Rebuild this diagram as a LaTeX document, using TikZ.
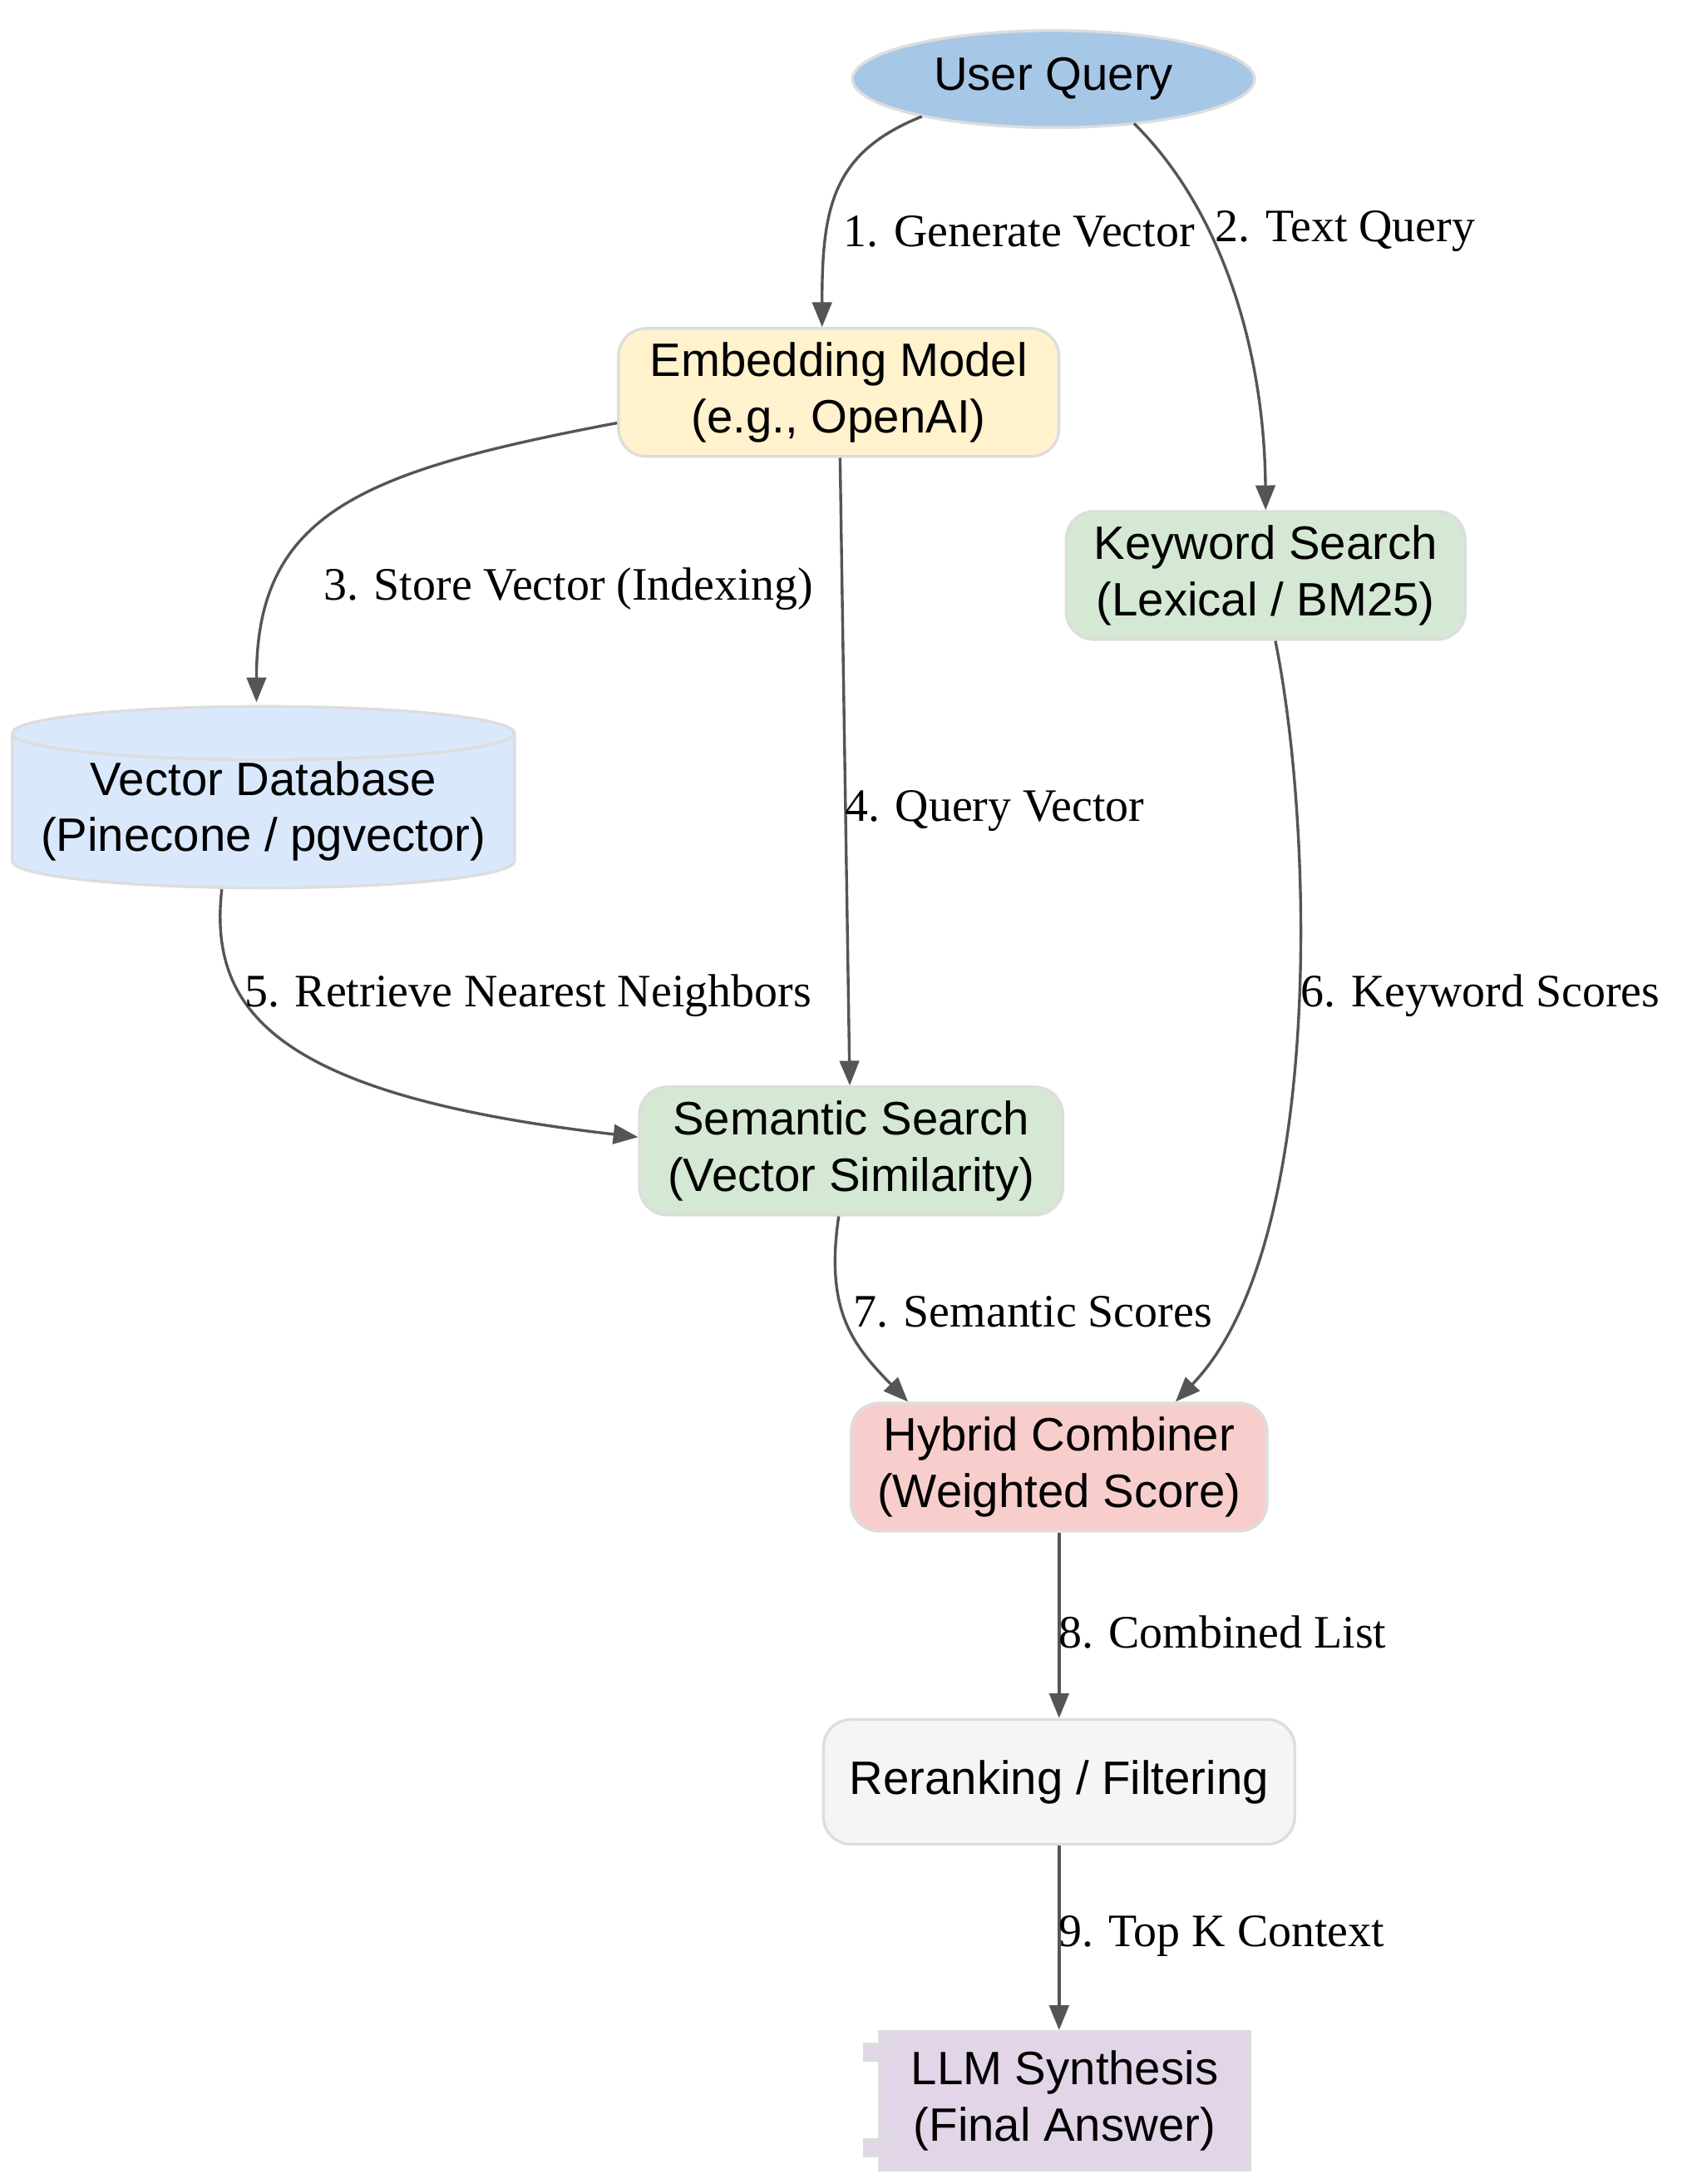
\documentclass[tikz,border=0pt]{standalone}
\usepackage{fontspec}
\setmainfont{Liberation Serif}
\setsansfont{Liberation Sans}
\usetikzlibrary{arrows.meta,positioning,shapes.geometric,calc}
\definecolor{edgegray}{HTML}{555555}
\definecolor{bordergray}{HTML}{DDDDDD}
\definecolor{qblue}{HTML}{A7C7E7}
\definecolor{embyellow}{HTML}{FFF2CC}
\definecolor{srchgreen}{HTML}{D5E8D4}
\definecolor{dbblue}{HTML}{DAE8FC}
\definecolor{combred}{HTML}{F8CECC}
\definecolor{rrgray}{HTML}{F5F5F5}
\definecolor{llmpurple}{HTML}{E1D5E7}
\begin{document}
\begin{tikzpicture}[x=0.013cm,y=-0.013cm,
  every node/.style={font=\sffamily\fontsize{12.5}{15}\selectfont,align=center,inner sep=0pt},
  box/.style={draw=bordergray,line width=0.75pt,rounded corners=0.26cm,minimum height=1.2cm},
  lbl/.style={font=\rmfamily\fontsize{12.4}{15}\selectfont,anchor=west},
  arr/.style={-{Triangle[length=6.6pt,width=5.2pt]},line width=0.75pt,edgegray}
]
\useasboundingbox (0,0) rectangle (1213,1575);

% nodes
\node[ellipse,draw=bordergray,line width=0.75pt,fill=qblue,minimum width=3.77cm,minimum height=0.91cm] (query) at (760,57) {User Query};
\node[box,fill=embyellow,minimum width=4.13cm] (embed) at (605,283) {Embedding Model\\(e.g., OpenAI)};
\node[box,fill=srchgreen,minimum width=3.74cm] (keyword) at (913,415) {Keyword Search\\(Lexical / BM25)};
\node[cylinder,shape border rotate=90,aspect=0.12,draw=bordergray,line width=0.75pt,fill=dbblue,minimum width=4.71cm,minimum height=1.69cm] (vdb) at (190,585) {Vector Database\\(Pinecone / pgvector)};
\node[box,fill=srchgreen,minimum width=3.97cm] (semantic) at (614,830) {Semantic Search\\(Vector Similarity)};
\node[box,fill=combred,minimum width=3.9cm] (hybrid) at (764,1058) {Hybrid Combiner\\(Weighted Score)};
\node[box,fill=rrgray,minimum width=4.42cm,minimum height=1.17cm] (rerank) at (764,1285) {Reranking / Filtering};
\node[draw=bordergray,line width=0.75pt,fill=llmpurple,minimum width=3.47cm,minimum height=1.3cm] (llm) at (768,1515) {LLM Synthesis\\(Final Answer)};
\draw[bordergray,line width=0.75pt,fill=llmpurple] ($(llm.north west)+(-10,10)$) rectangle ++(22,12);
\draw[bordergray,line width=0.75pt,fill=llmpurple] ($(llm.north west)+(-10,79)$) rectangle ++(22,12);

% connectors
\draw[arr] ($(query.center)+(-95,27)$) .. controls (600,110) and (593,150) .. ($(embed.north)+(-12,0)$);
\draw[arr] ($(query.center)+(58,32)$) .. controls (880,150) and (912,250) .. ($(keyword.north)+(0,0)$);
\draw[arr] ($(embed.west)+(0,22)$) .. controls (260,340) and (185,370) .. ($(vdb.north)+(-5,-2)$);
\draw[arr] ($(embed.south)+(1,0)$) -- ($(semantic.north)+(-1,0)$);
\draw[arr] ($(vdb.south)+(-30,0)$) .. controls (150,730) and (200,790) .. ($(semantic.west)+(0,-10)$);
\draw[arr] ($(keyword.south)+(7,0)$) .. controls (948,600) and (955,900) .. ($(hybrid.north)+(84,0)$);
\draw[arr] ($(semantic.south)+(-9,0)$) .. controls (595,945) and (615,970) .. ($(hybrid.north)+(-109,0)$);
\draw[arr] (hybrid) -- (rerank);
\draw[arr] (rerank.south) -- (rerank.south |- llm.north);

% labels
\node[lbl] at (608,167) {1. Generate Vector};
\node[lbl] at (876,167) {2. Text Query};
\node[lbl] at (233,425) {3. Store Vector (Indexing)};
\node[lbl] at (609,585) {4. Query Vector};
\node[lbl] at (176,718) {5. Retrieve Nearest Neighbors};
\node[lbl] at (938,718) {6. Keyword Scores};
\node[lbl] at (615,946) {7. Semantic Scores};
\node[lbl] at (763,1177) {8. Combined List};
\node[lbl] at (763,1396) {9. Top K Context};
\end{tikzpicture}
\end{document}
